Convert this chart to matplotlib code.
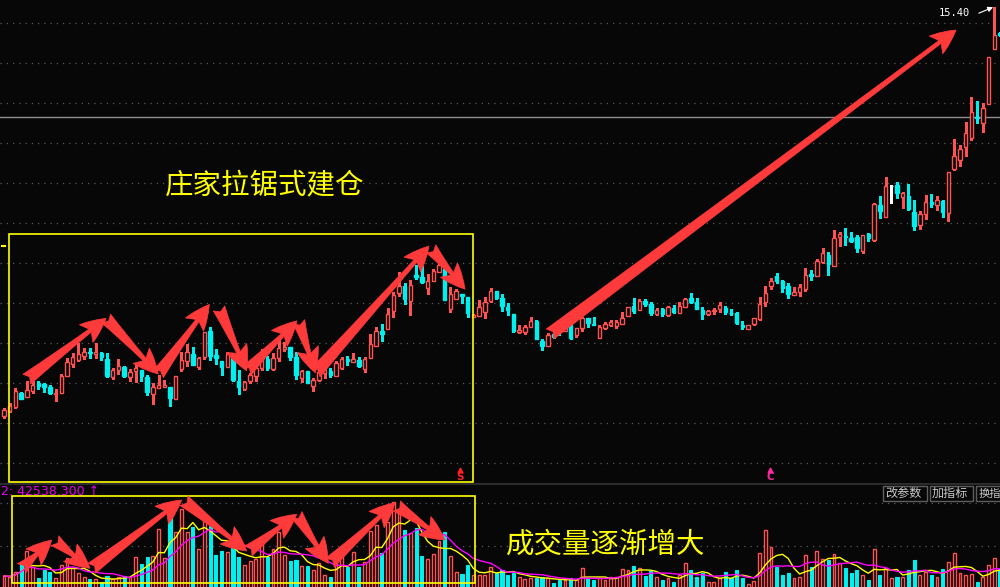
import matplotlib
matplotlib.use("Agg")
import matplotlib.pyplot as plt
import numpy as np
import pandas as pd
from matplotlib.patches import Rectangle
from matplotlib.lines import Line2D

plt.rcParams['font.family'] = ['Noto Sans CJK SC', 'DejaVu Sans']

# ---------------- data ----------------
open_ = [5.19, 5.31, 5.41, 5.76, 5.65, 5.81, 6.00, 5.97, 5.91, 5.72,
         5.76, 6.19, 6.47, 6.58, 6.69, 6.78, 6.73, 6.76, 6.61, 6.16,
         6.33, 6.41, 6.16, 6.31, 6.33, 6.16, 5.74, 5.89, 5.91, 5.91,
         5.61, 6.36, 6.56, 6.73, 6.41, 6.65, 7.31, 6.71, 6.55, 6.41,
         6.62, 6.06, 5.86, 6.06, 6.18, 6.39, 6.60, 6.36, 6.64, 6.86,
         6.90, 6.66, 6.14, 6.30, 5.94, 6.08, 6.26, 6.31, 6.19, 6.39,
         6.61, 6.54, 6.58, 6.36, 6.64, 6.94, 7.31, 7.36, 7.81, 8.26,
         8.43, 8.06, 8.71, 8.66, 8.38, 8.56, 8.78, 8.85, 7.86, 8.11,
         8.22, 8.15, 7.66, 7.69, 7.77, 8.05, 8.30, 8.12, 7.91, 7.73,
         7.29, 7.29, 7.41, 7.56, 7.06, 6.94, 7.23, 7.33, 7.31, 7.43,
         7.21, 7.37, 7.62, 7.48, 7.12, 7.38, 7.46, 7.43, 7.49, 7.69,
         7.94, 7.84, 8.06, 7.98, 7.73, 7.86, 7.71, 7.88, 7.76, 7.91,
         8.12, 8.04, 7.83, 7.72, 7.81, 7.86, 7.89, 7.76, 7.75, 7.46,
         7.36, 7.48, 7.60, 8.02, 8.43, 8.69, 8.56, 8.43, 8.21, 8.29,
         8.36, 8.73, 8.69, 9.04, 9.20, 8.94, 9.66, 9.68, 9.63, 9.65,
         9.31, 9.73, 9.58, 10.45, 10.16, 10.93, 10.95, 10.66, 10.68, 10.28,
         9.96, 10.22, 10.54, 10.46, 10.56, 10.25, 11.36, 11.58, 11.91, 12.14,
         12.66, 12.50, 12.97, 14.35, 14.76]
high = [5.39, 5.50, 5.87, 5.77, 6.06, 6.06, 6.06, 6.01, 5.96, 5.85,
        6.23, 6.62, 6.75, 7.00, 6.89, 6.89, 7.00, 6.78, 6.76, 6.38,
        6.60, 6.44, 6.35, 6.50, 6.33, 6.20, 6.01, 6.21, 6.07, 5.91,
        6.18, 6.78, 6.98, 6.91, 6.66, 7.27, 7.41, 6.86, 6.55, 6.78,
        6.66, 6.33, 6.06, 6.25, 6.46, 6.86, 6.68, 6.76, 7.10, 7.02,
        6.90, 6.77, 6.33, 6.30, 6.14, 6.33, 6.36, 6.38, 6.56, 6.66,
        6.68, 6.76, 6.66, 6.66, 7.23, 7.40, 7.48, 7.87, 8.28, 8.78,
        8.50, 8.58, 8.96, 8.93, 8.73, 8.86, 9.23, 8.96, 8.40, 8.35,
        8.22, 8.15, 7.73, 8.07, 8.16, 8.37, 8.30, 8.23, 8.00, 7.73,
        7.46, 7.46, 7.65, 7.58, 7.11, 7.26, 7.26, 7.37, 7.47, 7.50,
        7.37, 7.65, 7.62, 7.65, 7.46, 7.53, 7.57, 7.57, 7.77, 7.91,
        8.14, 8.11, 8.11, 8.02, 7.87, 7.89, 7.94, 7.96, 8.02, 8.14,
        8.26, 8.14, 7.90, 7.83, 7.87, 8.02, 7.94, 7.85, 7.77, 7.56,
        7.46, 7.62, 8.16, 8.43, 8.62, 8.75, 8.58, 8.50, 8.40, 8.47,
        8.88, 8.82, 9.11, 9.37, 9.27, 9.83, 9.78, 9.88, 9.78, 9.71,
        9.70, 9.76, 10.51, 10.68, 11.16, 10.95, 11.02, 10.77, 10.98, 10.58,
        10.31, 10.71, 10.74, 10.68, 10.58, 11.27, 12.10, 11.96, 12.54, 13.15,
        13.06, 13.00, 14.15, 15.40, 14.78]
low = [5.14, 5.29, 5.39, 5.61, 5.65, 5.75, 5.86, 5.78, 5.73, 5.56,
       5.76, 6.19, 6.41, 6.56, 6.61, 6.64, 6.64, 6.59, 6.16, 6.11,
       6.24, 6.16, 6.06, 6.04, 6.06, 5.71, 5.49, 5.89, 5.90, 5.44,
       5.61, 6.31, 6.44, 6.46, 6.36, 6.61, 6.59, 6.49, 6.21, 6.41,
       6.06, 5.74, 5.83, 6.00, 6.06, 6.33, 6.33, 6.34, 6.56, 6.81,
       6.59, 6.11, 6.03, 6.01, 5.81, 6.06, 6.14, 6.16, 6.19, 6.36,
       6.46, 6.54, 6.41, 6.29, 6.64, 6.94, 7.06, 7.36, 7.66, 8.19,
       7.98, 7.71, 8.61, 8.50, 8.24, 8.56, 8.78, 8.09, 7.78, 8.11,
       8.01, 7.66, 7.65, 7.69, 7.62, 8.04, 8.11, 7.81, 7.71, 7.28,
       7.25, 7.23, 7.41, 7.11, 6.83, 6.93, 7.12, 7.21, 7.31, 7.11,
       7.16, 7.31, 7.41, 7.46, 7.12, 7.36, 7.44, 7.37, 7.49, 7.69,
       7.76, 7.84, 7.94, 7.71, 7.71, 7.69, 7.69, 7.75, 7.76, 7.91,
       8.00, 7.86, 7.61, 7.71, 7.73, 7.79, 7.72, 7.71, 7.48, 7.36,
       7.36, 7.46, 7.59, 7.94, 8.36, 8.50, 8.29, 8.14, 8.21, 8.19,
       8.31, 8.58, 8.69, 9.00, 8.71, 8.94, 9.43, 9.46, 9.54, 9.27,
       9.26, 9.56, 9.56, 10.13, 10.16, 10.50, 10.64, 10.39, 10.33, 9.83,
       9.85, 10.11, 10.41, 10.33, 10.16, 10.06, 11.33, 11.43, 11.68, 12.08,
       12.50, 12.27, 12.97, 14.35, 14.68]
close = [5.33, 5.43, 5.80, 5.61, 5.82, 5.96, 5.94, 5.91, 5.76, 5.76,
         6.18, 6.53, 6.66, 6.73, 6.78, 6.76, 6.77, 6.66, 6.19, 6.33,
         6.43, 6.19, 6.27, 6.38, 6.19, 5.78, 5.91, 5.96, 5.96, 5.64,
         6.18, 6.58, 6.77, 6.46, 6.64, 7.27, 6.69, 6.64, 6.41, 6.73,
         6.09, 5.90, 6.03, 6.20, 6.39, 6.62, 6.37, 6.62, 6.87, 6.91,
         6.66, 6.20, 6.31, 6.01, 6.09, 6.28, 6.33, 6.20, 6.51, 6.61,
         6.56, 6.61, 6.43, 6.61, 6.98, 7.31, 7.24, 7.73, 8.21, 8.43,
         8.11, 8.46, 8.65, 8.53, 8.56, 8.81, 8.96, 8.09, 8.22, 8.30,
         8.19, 7.76, 7.70, 7.90, 8.04, 8.30, 8.13, 7.94, 7.83, 7.31,
         7.32, 7.40, 7.56, 7.11, 6.93, 7.21, 7.15, 7.30, 7.40, 7.12,
         7.37, 7.62, 7.50, 7.46, 7.41, 7.49, 7.52, 7.52, 7.62, 7.91,
         7.80, 8.06, 7.98, 7.75, 7.83, 7.73, 7.91, 7.77, 7.92, 8.10,
         8.02, 7.86, 7.73, 7.81, 7.83, 7.96, 7.79, 7.75, 7.51, 7.41,
         7.46, 7.62, 7.98, 8.25, 8.56, 8.56, 8.39, 8.23, 8.27, 8.41,
         8.70, 8.68, 9.06, 9.25, 8.99, 9.62, 9.73, 9.66, 9.56, 9.39,
         9.70, 9.64, 10.48, 10.31, 10.93, 10.93, 10.76, 10.76, 10.35, 9.94,
         10.22, 10.52, 10.48, 10.57, 10.28, 11.27, 11.68, 11.86, 12.25, 12.79,
         12.64, 12.87, 14.15, 14.71, 14.71]
volume = [6720, 6384, 8784, 13584, 18720, 11184, 5616, 9600, 8784, 5616,
          12000, 15216, 10416, 8016, 6096, 5280, 5280, 3984, 6720, 5136,
          6096, 6720, 6096, 15984, 12480, 15984, 16320, 29280, 15216, 37104,
          27984, 38880, 27984, 30096, 19536, 33600, 30720, 16800, 18720, 18384,
          20496, 15984, 12000, 14064, 14880, 22896, 15984, 19536, 27696, 16800,
          14064, 14400, 11520, 11520, 9600, 12816, 7200, 6096, 13104, 19200,
          10896, 18384, 11184, 13584, 28320, 31200, 17616, 32496, 42096, 37296,
          28800, 27216, 29616, 16320, 14880, 17280, 23520, 27696, 16320, 8496,
          7680, 12000, 7200, 7200, 7200, 11184, 8016, 9600, 7200, 8304,
          6096, 5280, 5904, 5616, 6096, 5616, 3504, 4800, 4800, 5616,
          4800, 10416, 5616, 4800, 5616, 4800, 6384, 6384, 9936, 9600,
          11520, 10416, 6720, 9264, 6384, 4800, 5616, 3984, 7200, 12816,
          9600, 6384, 8016, 3984, 3984, 5616, 8496, 5904, 9600, 5904,
          2880, 4464, 17904, 28800, 20496, 11184, 7200, 8016, 5616, 6384,
          16800, 10896, 18720, 14880, 14400, 17280, 12816, 10416, 8304, 9600,
          7200, 4800, 19680, 7200, 10416, 5616, 6384, 6384, 9600, 14400,
          7200, 8784, 7200, 6384, 10080, 13584, 17616, 8016, 7200, 7680,
          3984, 6384, 12000, 15216, 9936]

# annotation arrows (candle index, price) -> (candle index, price)
price_arrows = [
    (3.97, 6.10, 17.82, 7.62),
    (17.82, 7.62, 26.96, 6.23),
    (26.96, 6.23, 35.87, 7.97),
    (37.56, 7.87, 42.40, 6.31),
    (42.40, 6.31, 51.19, 7.56),
    (51.49, 7.54, 54.39, 6.26),
    (54.39, 6.26, 74.25, 9.43),
    (74.60, 9.36, 80.54, 8.35),
    (95.39, 7.23, 166.32, 14.83),
]
volume_arrows = [
    (3.09, 10416, 8.33, 24000),
    (8.91, 23664, 15.02, 10416),
    (15.32, 10416, 31.04, 43200),
    (31.45, 42864, 42.40, 18720),
    (42.68, 18720, 51.14, 36336),
    (51.14, 36000, 56.66, 12816),
    (56.95, 13104, 68.31, 41904),
    (68.61, 40320, 77.04, 24000),
]
price_box = (0.93, 3.53, 81.99, 9.72)       # x0, y0, x1, y1
volume_box = (1.35, 3216, 82.34, 45264)
ref_price = 12.66
last_high = 15.40
price_grid = list(range(4, 16))
volume_grid = [21000, 42000]
caption_top = "庄家拉锯式建仓"
caption_bottom = "成交量逐渐增大"
vol_label = "2: 42538.300 ↑"
buttons = ["改参数", "加指标", "换指"]

# ---------------- style ----------------
BG = "#070707"
RED = "#ff5252"
CYAN = "#00f0f0"
ARROW = "#ff3a3a"
YELLOW = "#ffff00"
GRID = "#5a5a5a"
ARROW_STYLE = "fancy,head_length=0.9,head_width=0.8,tail_width=0.45"

W, H = 1000, 587
fig = plt.figure(figsize=(W / 100, H / 100), dpi=100, facecolor=BG)
ax = fig.add_axes([0, 104 / H, 1, 483 / H], facecolor=BG)
axv = fig.add_axes([0, 0, 1, 102 / H], facecolor=BG)

o = np.array(open_); h = np.array(high); l = np.array(low); c = np.array(close)
v = np.array(volume, dtype=float)
x = np.arange(len(o))
up = c > o
dn = c < o
fl = c == o

wick_cols = np.where(up, RED, np.where(dn, CYAN, "#ffffff"))
ax.vlines(x, l, h, colors=wick_cols, lw=1.0, zorder=2, antialiased=False)
bw = 0.6
ax.bar(x[up], (c - o)[up], bottom=o[up], width=bw, facecolor=BG,
       edgecolor=RED, lw=1.0, zorder=3)
ax.bar(x[dn], (o - c)[dn], bottom=c[dn], width=bw, facecolor=CYAN,
       edgecolor=CYAN, lw=1.0, zorder=3)
ax.hlines(c[fl], x[fl] - bw / 2, x[fl] + bw / 2, colors="#ffffff", lw=1.0, zorder=3)

xmin, xmax = -0.70, 174.0
ax.set_xlim(xmin, xmax)
ax.set_ylim(3.505, 15.58)
ax.set_yticks(price_grid)
ax.grid(axis="y", color=GRID, linestyle=(0, (1, 4)), lw=0.9)
ax.axhline(ref_price, color="#8e8e8e", lw=1.0, zorder=1)

# box
bx0, by0, bx1, by1 = price_box
ax.add_patch(Rectangle((bx0, by0), bx1 - bx0, by1 - by0, fill=False,
                       edgecolor=YELLOW, lw=1.2, zorder=4))
ax.hlines(9.43, -0.45, 0.3, colors=YELLOW, lw=1.5)

for x0, y0, x1, y1 in price_arrows:
    ax.annotate("", xy=(x1, y1), xytext=(x0, y0),
                arrowprops=dict(arrowstyle=ARROW_STYLE,
                                fc=ARROW, ec=ARROW, lw=0.5, shrinkA=0, shrinkB=0,
                                mutation_scale=20),
                zorder=6)

# last high label
ax.text(166.1, 15.25, f"{last_high:.2f}", color="white", fontsize=7.5,
        family="DejaVu Sans Mono", ha="center", va="center")
ax.annotate("", xy=(172.8, last_high), xytext=(170.3, 15.25),
            arrowprops=dict(arrowstyle="-|>,head_length=0.3,head_width=0.15",
                            color="white", lw=0.8, shrinkA=0, shrinkB=0))

# S / C markers
ax.text(79.7, 3.66, "S", color="#ff2020", fontsize=7.5, fontweight="bold",
        ha="center", va="center", family="DejaVu Sans")
ax.plot([79.7], [3.82], marker="^", color="#ff2020", ms=3.5)
ax.text(133.8, 3.66, "C", color="#ff2aa0", fontsize=7.5, fontweight="bold",
        ha="center", va="center", family="DejaVu Sans")
ax.plot([133.8], [3.82], marker="^", color="#ff2aa0", ms=3.5)

ax.text(261 / 5.724, 15.58 - 185 / 40, caption_top, color=YELLOW, fontsize=20.5,
        ha="center", va="center")

# ---------------- volume ----------------
vup = c >= o
axv.bar(x[vup], v[vup], width=0.5, facecolor=BG, edgecolor=RED, lw=1.0, zorder=3)
axv.bar(x[~vup], v[~vup], width=0.55, facecolor=CYAN, edgecolor=CYAN, lw=0.8, zorder=3)
ma5 = pd.Series(v).rolling(5, min_periods=1).mean()
ma10 = pd.Series(v).rolling(10, min_periods=1).mean()
axv.plot(x, ma5, color=YELLOW, lw=1.0, zorder=4)
axv.plot(x, ma10, color="#ff00ff", lw=1.0, zorder=4)
axv.set_xlim(xmin, xmax)
axv.set_ylim(1440, 50400)
axv.set_yticks(volume_grid)
axv.grid(axis="y", color=GRID, linestyle=(0, (1, 4)), lw=0.9)

vx0, vy0, vx1, vy1 = volume_box
axv.add_patch(Rectangle((vx0, vy0), vx1 - vx0, vy1 - vy0, fill=False,
                        edgecolor=YELLOW, lw=1.2, zorder=5))
for x0, y0, x1, y1 in volume_arrows:
    axv.annotate("", xy=(x1, y1), xytext=(x0, y0),
                 arrowprops=dict(arrowstyle=ARROW_STYLE,
                                 fc=ARROW, ec=ARROW, lw=0.5, shrinkA=0, shrinkB=0,
                                 mutation_scale=20),
                 zorder=6)

for a in (ax, axv):
    for s in a.spines.values():
        s.set_visible(False)
    a.tick_params(length=0, labelbottom=False, labelleft=False)

# figure level decorations
fig.add_artist(Line2D([0, 1], [1 - 483.5 / H, 1 - 483.5 / H], color="#333333", lw=1.2))
fig.text(0.001, 1 - 491.5 / H, vol_label, color="#e600e6", fontsize=9,
         ha="left", va="center", family="DejaVu Sans")
fig.text(606 / W, 1 - 545 / H, caption_bottom, color=YELLOW, fontsize=20.5,
         ha="center", va="center")
bx = 883
for k, label in enumerate(buttons):
    fig.add_artist(Rectangle((bx / W, 1 - 501 / H), 43.5 / W, 15.5 / H,
                             transform=fig.transFigure, facecolor=BG,
                             edgecolor="#5e5e5e", lw=1.0))
    fs = 8.7 if k < 2 else 8.1
    fig.text((bx + 2.5) / W, 1 - 493.5 / H, label, color="#c8c8c8", fontsize=fs,
             ha="left", va="center")
    bx += 46.5

fig.savefig("out.png", dpi=100, facecolor=BG)
